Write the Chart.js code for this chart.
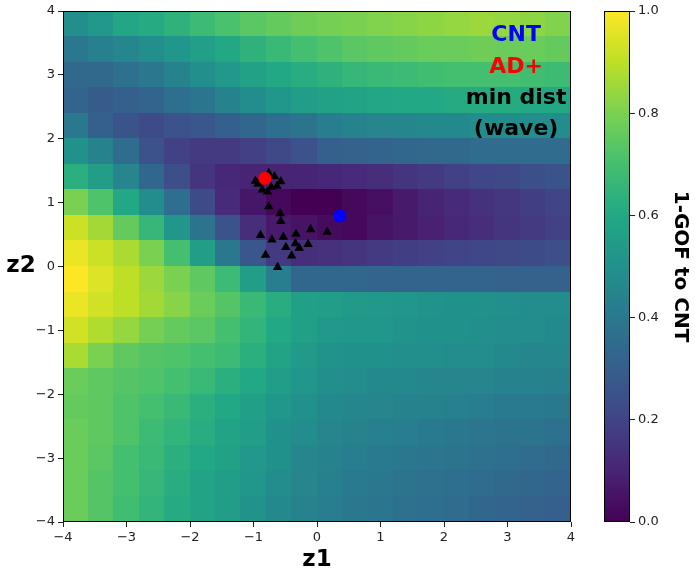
<!DOCTYPE html>
<html>
<head>
<meta charset="utf-8">
<script src="https://cdn.jsdelivr.net/npm/chart.js@4.4.0/dist/chart.umd.min.js"></script>
<style>
body { margin: 0; background: #fff; }
#wrap { position: relative; width: 695px; height: 573px; }
#main { position: absolute; left: 0; top: 0; }
#cbar { position: absolute; left: 575px; top: 0; }
</style>
</head>
<body>
<div id="wrap">
<canvas id="main" width="695" height="573"></canvas>
<canvas id="cbar" width="120" height="573"></canvas>
</div>
<script>
// grid cell edges (z1 left->right, z2 top->bottom)
var cellEdgesX = [-4, -3.6, -3.2, -2.8, -2.4, -2, -1.6, -1.2, -0.8, -0.4, 0, 0.4, 0.8, 1.2, 1.6, 2, 2.4, 2.8, 3.2, 3.6, 4];
var cellEdgesY = [4, 3.6, 3.2, 2.8, 2.4, 2, 1.6, 1.2, 0.8, 0.4, 0, -0.4, -0.8, -1.2, -1.6, -2, -2.4, -2.8, -3.2, -3.6, -4];

// 1-GOF to CNT, one row per z2 band, top row first
var zRows = [
	[0.49,0.53,0.59,0.61,0.64,0.68,0.71,0.74,0.76,0.78,0.79,0.80,0.81,0.82,0.83,0.84,0.85,0.84,0.83,0.81],
	[0.40,0.43,0.46,0.49,0.52,0.56,0.60,0.64,0.67,0.70,0.72,0.74,0.75,0.76,0.77,0.77,0.78,0.77,0.77,0.76],
	[0.34,0.34,0.37,0.40,0.44,0.49,0.53,0.57,0.60,0.62,0.64,0.66,0.67,0.68,0.69,0.70,0.70,0.70,0.69,0.68],
	[0.32,0.29,0.30,0.32,0.36,0.39,0.44,0.48,0.52,0.55,0.57,0.58,0.59,0.60,0.60,0.61,0.61,0.61,0.60,0.60],
	[0.40,0.30,0.26,0.23,0.25,0.27,0.30,0.33,0.36,0.38,0.42,0.44,0.45,0.46,0.47,0.47,0.48,0.48,0.48,0.48],
	[0.50,0.44,0.35,0.25,0.19,0.17,0.17,0.19,0.22,0.25,0.30,0.31,0.32,0.33,0.34,0.34,0.35,0.35,0.35,0.35],
	[0.63,0.55,0.45,0.33,0.24,0.15,0.11,0.10,0.10,0.10,0.11,0.12,0.13,0.15,0.17,0.19,0.21,0.22,0.24,0.26],
	[0.80,0.72,0.60,0.48,0.36,0.23,0.12,0.06,0.02,0.00,0.00,0.02,0.04,0.07,0.10,0.12,0.14,0.16,0.18,0.20],
	[0.92,0.86,0.76,0.66,0.52,0.38,0.26,0.13,0.07,0.05,0.03,0.02,0.05,0.07,0.09,0.11,0.13,0.15,0.17,0.19],
	[0.97,0.92,0.87,0.80,0.70,0.55,0.40,0.27,0.17,0.13,0.14,0.15,0.17,0.18,0.19,0.20,0.21,0.22,0.23,0.24],
	[1.00,0.95,0.90,0.85,0.80,0.75,0.68,0.55,0.42,0.33,0.33,0.33,0.32,0.32,0.32,0.32,0.32,0.31,0.31,0.31],
	[0.97,0.93,0.90,0.86,0.82,0.77,0.73,0.67,0.62,0.56,0.55,0.54,0.53,0.52,0.51,0.50,0.50,0.49,0.48,0.48],
	[0.93,0.88,0.84,0.79,0.76,0.74,0.70,0.65,0.60,0.56,0.53,0.52,0.52,0.51,0.50,0.50,0.49,0.48,0.48,0.47],
	[0.87,0.80,0.75,0.73,0.72,0.70,0.68,0.63,0.58,0.54,0.51,0.50,0.50,0.49,0.49,0.48,0.48,0.47,0.46,0.46],
	[0.77,0.75,0.73,0.72,0.70,0.67,0.63,0.60,0.55,0.52,0.49,0.48,0.47,0.47,0.46,0.45,0.45,0.44,0.44,0.43],
	[0.76,0.75,0.72,0.70,0.67,0.63,0.60,0.56,0.52,0.50,0.47,0.46,0.45,0.44,0.44,0.43,0.42,0.41,0.41,0.40],
	[0.77,0.75,0.72,0.68,0.65,0.62,0.58,0.55,0.50,0.48,0.45,0.44,0.43,0.42,0.41,0.40,0.39,0.38,0.38,0.37],
	[0.77,0.74,0.70,0.67,0.63,0.60,0.57,0.53,0.50,0.46,0.44,0.42,0.41,0.40,0.39,0.38,0.37,0.36,0.35,0.34],
	[0.77,0.73,0.70,0.66,0.62,0.58,0.55,0.52,0.48,0.45,0.43,0.41,0.40,0.38,0.37,0.36,0.35,0.34,0.33,0.32],
	[0.77,0.73,0.69,0.65,0.61,0.58,0.55,0.51,0.47,0.44,0.42,0.40,0.39,0.37,0.36,0.35,0.33,0.32,0.31,0.30]
];

// min dist (wave) points
var triX = [-0.93,-0.84,-0.67,-0.57,-0.63,-0.78,-0.86,-0.76,-0.97,-0.72,-0.76,-0.58,-0.57,-0.89,-0.71,-0.53,-0.33,-0.10,0.16,-0.14,-0.34,-0.28,-0.49,-0.40,-0.81,-0.62];
var triY = [1.29,1.33,1.41,1.33,1.26,1.17,1.20,1.46,1.34,1.24,0.94,0.83,0.71,0.49,0.42,0.46,0.51,0.58,0.54,0.35,0.36,0.29,0.30,0.17,0.18,-0.01];
var cntX = [0.36], cntY = [0.79];
var adX = [-0.82], adY = [1.38];

var viridisStops = ['#440154','#482475','#414487','#355f8d','#2a788e','#21918c','#22a884','#44bf70','#7ad151','#bddf26','#fde725'];

function hexRgb(h) {
	return [parseInt(h.substr(1,2),16), parseInt(h.substr(3,2),16), parseInt(h.substr(5,2),16)];
}

function viridis(t) {
	t = Math.max(0, Math.min(1, t));
	var p = t * (viridisStops.length - 1);
	var i = Math.min(Math.floor(p), viridisStops.length - 2);
	var f = p - i;
	var a = hexRgb(viridisStops[i]), b = hexRgb(viridisStops[i+1]);
	var c = [];
	for (var k = 0; k < 3; k++) c.push(Math.round(a[k] + (b[k]-a[k]) * f));
	return 'rgb(' + c.join(',') + ')';
}

function fmtTick(v) {
	return v < 0 ? '\u2212' + Math.abs(v) : '' + v;
}

function pts(xs, ys) {
	return xs.map(function(x, i) { return {x: x, y: ys[i]}; });
}

var tickFont = {family: 'DejaVu Sans', size: 13};
var boldFamily = 'DejaVu Sans';

var heatmapPlugin = {
	id: 'heatmap',
	beforeDatasetsDraw: function(chart) {
		var ctx = chart.ctx, xs = chart.scales.x, ys = chart.scales.y;
		ctx.save();
		for (var r = 0; r < zRows.length; r++) {
			var y0 = Math.floor(ys.getPixelForValue(cellEdgesY[r]));
			var y1 = Math.ceil(ys.getPixelForValue(cellEdgesY[r+1]));
			for (var c = 0; c < zRows[r].length; c++) {
				var x0 = Math.floor(xs.getPixelForValue(cellEdgesX[c]));
				var x1 = Math.ceil(xs.getPixelForValue(cellEdgesX[c+1]));
				ctx.fillStyle = viridis(zRows[r][c]);
				ctx.fillRect(x0, y0, x1 - x0, y1 - y0);
			}
		}
		ctx.restore();
	},
	afterDraw: function(chart) {
		var ctx = chart.ctx, a = chart.chartArea;
		ctx.save();
		ctx.strokeStyle = '#000';
		ctx.lineWidth = 1;
		ctx.strokeRect(a.left + 0.5, a.top + 0.5, a.right - a.left - 1, a.bottom - a.top - 1);

		ctx.textAlign = 'center';
		ctx.textBaseline = 'middle';
		ctx.font = 'bold 23px "' + boldFamily + '"';
		ctx.fillStyle = '#000';
		ctx.fillText('z2', a.left - 42, (a.top + a.bottom) / 2);
		ctx.fillText('z1', (a.left + a.right) / 2, 560);

		// labels in the top right corner
		var w = a.right - a.left, h = a.bottom - a.top;
		var cx = a.left + 0.892 * w;
		ctx.font = 'bold 22px "' + boldFamily + '"';
		ctx.fillStyle = '#0000ff';
		ctx.fillText('CNT', cx, a.top + 0.047 * h);
		ctx.fillStyle = '#ff0000';
		ctx.fillText('AD+', cx, a.top + 0.110 * h);
		ctx.fillStyle = '#000';
		ctx.fillText('min dist', cx, a.top + 0.171 * h);
		ctx.fillText('(wave)', cx, a.top + 0.232 * h);
		ctx.restore();
	}
};

var mainChart = new Chart(document.getElementById('main'), {
	type: 'scatter',
	data: {
		datasets: [
			{label: 'AD+', order: 0, data: pts(adX, adY), pointStyle: 'circle', pointRadius: 6.5, backgroundColor: '#ff0000', borderColor: '#ff0000', borderWidth: 0},
			{label: 'CNT', order: 1, data: pts(cntX, cntY), pointStyle: 'circle', pointRadius: 6.5, backgroundColor: '#0000ff', borderColor: '#0000ff', borderWidth: 0},
			{label: 'min dist (wave)', order: 2, data: pts(triX, triY), pointStyle: 'triangle', pointRadius: 5.5, backgroundColor: '#000', borderColor: '#000', borderWidth: 0}
		]
	},
	options: {
		responsive: false,
		animation: false,
		layout: {padding: {top: 11, right: 124, left: 0, bottom: 0}},
		plugins: {legend: {display: false}, tooltip: {enabled: false}},
		scales: {
			x: {
				min: -4, max: 4,
				ticks: {stepSize: 1, color: '#222', font: tickFont, padding: 3, maxRotation: 0, callback: fmtTick},
				grid: {drawOnChartArea: false, color: '#222', tickLength: 5},
				border: {display: false},
				afterFit: function(s) { s.height = 51; }
			},
			y: {
				min: -4, max: 4,
				ticks: {stepSize: 1, color: '#222', font: tickFont, padding: 3, callback: fmtTick},
				grid: {drawOnChartArea: false, color: '#222', tickLength: 5},
				border: {display: false},
				afterFit: function(s) { s.width = 63; }
			}
		}
	},
	plugins: [heatmapPlugin]
});

var colorbarPlugin = {
	id: 'colorbar',
	beforeDatasetsDraw: function(chart) {
		var ctx = chart.ctx, a = chart.chartArea, ys = chart.scales.y;
		var g = ctx.createLinearGradient(0, ys.getPixelForValue(0), 0, ys.getPixelForValue(1));
		for (var i = 0; i < viridisStops.length; i++) {
			g.addColorStop(i / (viridisStops.length - 1), viridisStops[i]);
		}
		ctx.save();
		ctx.fillStyle = g;
		ctx.fillRect(a.left, a.top, a.right - a.left, a.bottom - a.top);
		ctx.strokeStyle = '#000';
		ctx.lineWidth = 1;
		ctx.strokeRect(a.left + 0.5, a.top + 0.5, a.right - a.left - 1, a.bottom - a.top - 1);
		ctx.restore();
	}
};

var cbChart = new Chart(document.getElementById('cbar'), {
	type: 'scatter',
	data: {datasets: []},
	options: {
		responsive: false,
		animation: false,
		layout: {padding: {top: 11, left: 29, bottom: 51, right: 0}},
		plugins: {legend: {display: false}, tooltip: {enabled: false}},
		scales: {
			x: {display: false},
			y: {
				position: 'right',
				min: 0, max: 1,
				ticks: {stepSize: 0.2, color: '#222', font: tickFont, padding: 3, callback: function(v) { return v.toFixed(1); }},
				grid: {drawOnChartArea: false, color: '#222', tickLength: 5},
				border: {display: false},
				title: {display: true, text: '1-GOF to CNT', color: '#000', font: {family: boldFamily, size: 20, weight: 'bold', lineHeight: 1}, padding: {top: 5, bottom: 0}},
				afterFit: function(s) { s.width = 65; }
			}
		}
	},
	plugins: [colorbarPlugin]
});
</script>
</body>
</html>
